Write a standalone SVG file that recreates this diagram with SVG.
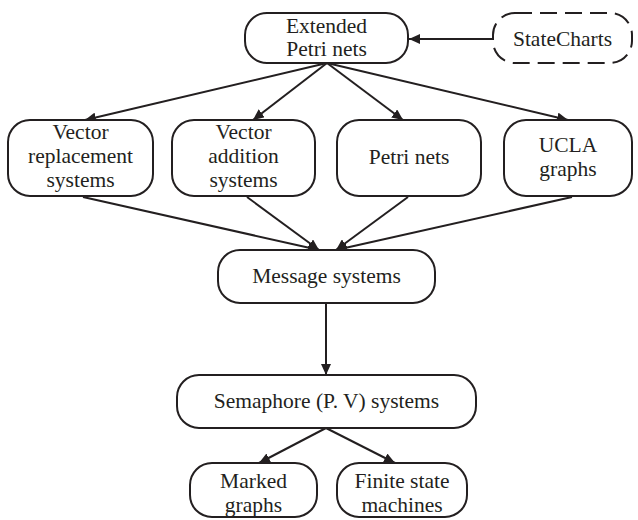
<svg xmlns="http://www.w3.org/2000/svg" width="638" height="520" viewBox="0 0 638 520">
<defs>
<marker id="ah" markerUnits="userSpaceOnUse" markerWidth="12" markerHeight="10" refX="11" refY="5" orient="auto">
<path d="M0,0 L11,5 L0,10 z" fill="#231f20"/>
</marker>
<style>
.box{fill:#fff;stroke:#231f20;stroke-width:2}
.dash{stroke-dasharray:17,8}
.t{font-family:"Liberation Serif","Times New Roman",serif;font-size:21.5px;fill:#231f20;text-anchor:middle}
.c{stroke:#231f20;stroke-width:2;fill:none;marker-end:url(#ah)}
</style>
</defs>
<rect width="638" height="520" fill="#fff"/>
<g id="connectors">
<line class="c" x1="493" y1="39" x2="409" y2="39"/>
<line class="c" x1="327" y1="63" x2="85" y2="120"/>
<line class="c" x1="327" y1="63" x2="253" y2="120"/>
<line class="c" x1="327" y1="63" x2="403" y2="120"/>
<line class="c" x1="327" y1="63" x2="568" y2="120"/>
<line class="c" x1="83" y1="197" x2="319" y2="250"/>
<line class="c" x1="247" y1="197" x2="319" y2="250"/>
<line class="c" x1="408" y1="197" x2="336" y2="250"/>
<line class="c" x1="572" y1="197" x2="336" y2="250"/>
<line class="c" x1="326" y1="303" x2="326" y2="375"/>
<line class="c" x1="326" y1="428" x2="259" y2="463"/>
<line class="c" x1="326" y1="428" x2="395" y2="463"/>
</g>
<g id="extended">
<rect class="box" x="245" y="13" width="163" height="50" rx="22"/>
<text class="t" x="326.5" y="33">Extended</text>
<text class="t" x="326.5" y="56">Petri nets</text>
</g>
<g id="statecharts">
<rect class="box dash" x="493" y="13" width="139" height="50" rx="22"/>
<text class="t" x="562.5" y="46">StateCharts</text>
</g>
<g id="vector-replacement">
<rect class="box" x="8" y="120" width="145" height="76" rx="22"/>
<text class="t" x="80.5" y="139">Vector</text>
<text class="t" x="80.5" y="163">replacement</text>
<text class="t" x="80.5" y="187">systems</text>
</g>
<g id="vector-addition">
<rect class="box" x="172" y="120" width="143" height="76" rx="22"/>
<text class="t" x="243.5" y="139">Vector</text>
<text class="t" x="243.5" y="163">addition</text>
<text class="t" x="243.5" y="187">systems</text>
</g>
<g id="petri-nets">
<rect class="box" x="337" y="120" width="144" height="76" rx="22"/>
<text class="t" x="409" y="164">Petri nets</text>
</g>
<g id="ucla">
<rect class="box" x="504" y="120" width="128" height="76" rx="22"/>
<text class="t" x="568" y="152">UCLA</text>
<text class="t" x="568" y="176">graphs</text>
</g>
<g id="message">
<rect class="box" x="218" y="250" width="217" height="53" rx="22"/>
<text class="t" x="326.5" y="283">Message systems</text>
</g>
<g id="semaphore">
<rect class="box" x="177" y="375" width="299" height="53" rx="22"/>
<text class="t" x="326.5" y="408">Semaphore (P. V) systems</text>
</g>
<g id="marked">
<rect class="box" x="190" y="463" width="127" height="54" rx="22"/>
<text class="t" x="253.5" y="488">Marked</text>
<text class="t" x="253.5" y="512">graphs</text>
</g>
<g id="finite">
<rect class="box" x="337" y="463" width="130" height="54" rx="22"/>
<text class="t" x="402" y="488">Finite state</text>
<text class="t" x="402" y="512">machines</text>
</g>
</svg>
